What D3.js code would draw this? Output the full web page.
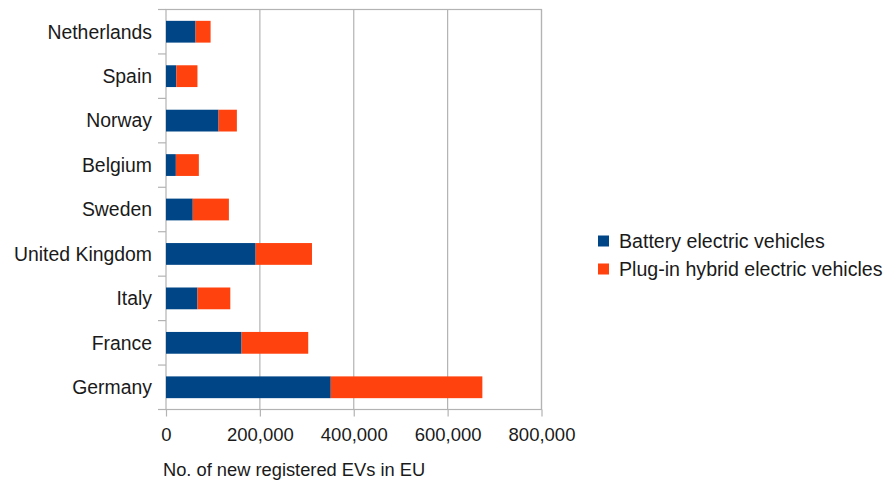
<!DOCTYPE html>
<html>
<head>
<meta charset="utf-8">
<script src="https://cdn.jsdelivr.net/npm/d3@7"></script>
<style>
  html, body { margin: 0; padding: 0; background: #fff; }
  svg { display: block; font-family: "Liberation Sans", Arial, sans-serif; }
</style>
</head>
<body>
<svg id="chart" width="892" height="483"></svg>
<script>
// Countries, top to bottom
const countries = ["Netherlands", "Spain", "Norway", "Belgium", "Sweden", "United Kingdom", "Italy", "France", "Germany"];
// New registrations per country
const batteryEV = [63000, 22000, 112000, 21000, 57000, 191000, 67000, 161000, 351000];
const plugInHybrid = [32000, 45000, 39000, 49000, 77000, 120000, 70000, 142000, 323000];
const xTicks = [0, 200000, 400000, 600000, 800000];
const seriesNames = ["Battery electric vehicles", "Plug-in hybrid electric vehicles"];
const seriesColors = ["#004586", "#ff420e"];

const svg = d3.select("#chart");
const plotLeft = 166, plotRight = 541.5, plotTop = 9.5, plotBottom = 409.5;
const labelSize = 19.4;
const textColor = "#1a1a1a";

const x = d3.scaleLinear().domain([0, 800000]).range([plotLeft, plotRight]);
const y = d3.scaleBand().domain(countries).range([plotTop, plotBottom]).paddingInner(0.51).paddingOuter(0.255);
const yOuter = d3.scaleBand().domain(countries).range([plotTop, plotBottom]);

const grid = "#b3b3b3";

// Vertical gridlines
svg.append("g").selectAll("line").data(xTicks.slice(1)).join("line")
  .attr("x1", d => x(d)).attr("x2", d => x(d))
  .attr("y1", plotTop).attr("y2", plotBottom)
  .attr("stroke", grid).attr("stroke-width", 1.2);

// Plot frame
svg.append("rect")
  .attr("x", plotLeft).attr("y", plotTop)
  .attr("width", plotRight - plotLeft).attr("height", plotBottom - plotTop)
  .attr("fill", "none").attr("stroke", grid).attr("stroke-width", 1.2);

// Stacked bars
const rows = countries.map((c, i) => ({ country: c, bev: batteryEV[i], phev: plugInHybrid[i] }));
const stack = d3.stack().keys(["bev", "phev"])(rows);
svg.append("g").selectAll("g").data(stack).join("g")
  .attr("fill", (d, i) => seriesColors[i])
  .selectAll("rect").data(d => d).join("rect")
  .attr("x", d => x(d[0]))
  .attr("width", d => x(d[1]) - x(d[0]))
  .attr("y", d => y(d.data.country))
  .attr("height", y.bandwidth());

// Y axis: tick marks at category boundaries
const boundaries = countries.map(c => yOuter(c)).concat([plotBottom]);
svg.append("g").selectAll("line").data(boundaries).join("line")
  .attr("x1", plotLeft - 8).attr("x2", plotLeft)
  .attr("y1", d => d).attr("y2", d => d)
  .attr("stroke", grid).attr("stroke-width", 1.2);

// Category labels
svg.append("g").selectAll("text").data(countries).join("text")
  .attr("x", 152)
  .attr("y", d => yOuter(d) + yOuter.bandwidth() / 2)
  .attr("dy", "0.35em")
  .attr("text-anchor", "end")
  .attr("font-size", labelSize)
  .attr("fill", textColor)
  .text(d => d);

// X axis ticks
const xAxis = d3.axisBottom(x).tickValues(xTicks).tickSize(7).tickFormat(d3.format(","));
const gx = svg.append("g").attr("transform", `translate(0,${plotBottom})`).call(xAxis);
gx.select(".domain").remove();
gx.selectAll(".tick line").attr("stroke", grid).attr("stroke-width", 1.2);
gx.selectAll(".tick text")
  .attr("font-size", 18.5)
  .attr("font-family", "'Liberation Sans', Arial, sans-serif")
  .attr("fill", textColor)
  .attr("y", 18)
  .attr("dy", "0.71em");

// Axis title
svg.append("text")
  .attr("x", 163).attr("y", 476)
  .attr("font-size", 18.3)
  .attr("fill", textColor)
  .text("No. of new registered EVs in EU");

// Legend
const legend = svg.append("g").selectAll("g").data(seriesNames).join("g")
  .attr("transform", (d, i) => `translate(598,${241 + i * 28})`);
legend.append("rect")
  .attr("x", 0).attr("y", -5.5).attr("width", 11).attr("height", 11)
  .attr("fill", (d, i) => seriesColors[i]);
legend.append("text")
  .attr("x", 21).attr("y", 0).attr("dy", "0.35em")
  .attr("font-size", 19.6)
  .attr("fill", textColor)
  .text(d => d);
</script>
</body>
</html>
